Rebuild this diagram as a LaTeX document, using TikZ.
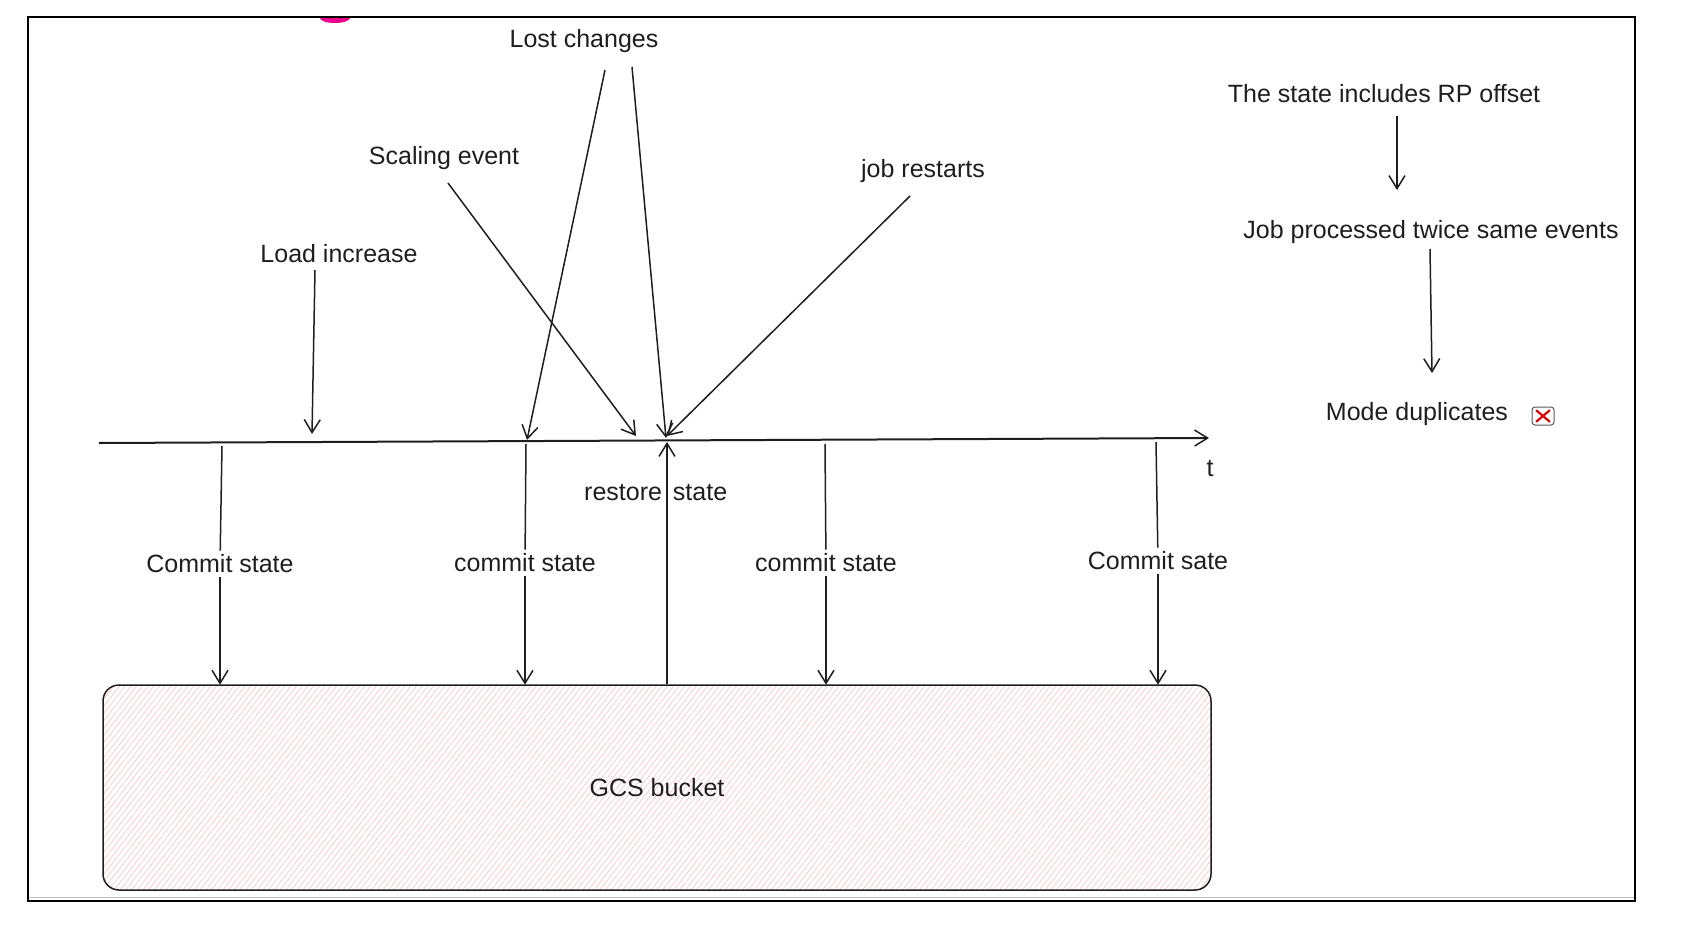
\documentclass[tikz,border=0pt]{standalone}
\usepackage{fontspec}
\setmainfont{Liberation Sans}
\usetikzlibrary{arrows.meta, patterns.meta}
\definecolor{ink}{HTML}{1E1E1E}
\definecolor{hatchred}{HTML}{F5C2C2}
\tikzset{lbl/.style = {font = \fontsize{25}{30}\selectfont, text = ink, inner sep = 4pt}}
\tikzset{link/.style = {draw = ink, line width = 1.5pt}}
\tikzset{arr/.style = {link, -{Straight Barb[length = 13pt, width = 16pt, line width = 1.5pt]}}}
\tikzset{bucket/.style = {draw = ink, line width = 1.5pt, rounded corners = 16pt,
    pattern = {Lines[angle = 52, distance = 4.5pt, line width = 0.6pt]}, pattern color = hatchred,
    minimum width = 1108pt, minimum height = 205pt, font = \fontsize{25}{30}\selectfont, text = ink}}

\begin{document}
\begin{tikzpicture}[x = 1pt, y = -1pt]
	\useasboundingbox (0, 0) rectangle (1682, 934);

	% frame of the screenshot
	\fill[magenta] (320, 18) arc[start angle = 180, end angle = 0, x radius = 15, y radius = 5] -- cycle;
	\draw[gray!50, line width = 1pt] (28, 897) -- (1635, 897);
	\draw[black, line width = 2pt] (28, 17) rectangle (1635, 901);

	% time axis
	\coordinate (tl0) at (99, 443);
	\coordinate (tl1) at (1209, 438);
	\draw[arr, line width = 2pt] (tl0) -- (tl1);
	\node[lbl] (t) at (1210, 469) {t};

	% state bucket
	\node[bucket] (gcs) at (657, 787.5) {GCS bucket};

	% commits
	\coordinate (c1) at (222, 446);
	\coordinate (c2) at (526, 444);
	\coordinate (c3) at (825, 444);
	\coordinate (c4) at (1156, 442);
	\node[lbl] (cs1) at (220, 564) {Commit state};
	\node[lbl] (cs2) at (525, 563) {commit state};
	\node[lbl] (cs3) at (826, 563) {commit state};
	\node[lbl] (cs4) at (1158, 561) {Commit sate};
	\draw[link] (c1) -- (cs1);
	\draw[link] (c2) -- (cs2);
	\draw[link] (c3) -- (cs3);
	\draw[link] (c4) -- (cs4);
	\draw[arr] (cs1) -- (cs1 |- gcs.north);
	\draw[arr] (cs2) -- (cs2 |- gcs.north);
	\draw[arr] (cs3) -- (cs3 |- gcs.north);
	\draw[arr] (cs4) -- (cs4 |- gcs.north);

	% restore
	\coordinate (rs0) at (667, 684);
	\coordinate (rs1) at (667, 442);
	\draw[arr] (rs0) -- (rs1);
	\node[lbl] (rs) at (667, 493) {\llap{restore\hspace{5pt}}\rlap{\hspace{6pt}state}};

	% events
	\node[lbl] (load) at (339, 254) {Load increase};
	\node[lbl] (scal) at (444, 158) {Scaling event};
	\node[lbl] (lost) at (584, 41) {Lost changes};
	\node[lbl] (job) at (923, 171) {job restarts};
	\coordinate (li0) at (315, 270);
	\coordinate (li1) at (312, 434);
	\coordinate (se0) at (448, 183);
	\coordinate (se1) at (636, 436);
	\coordinate (lcA0) at (605, 70);
	\coordinate (lcA1) at (527, 440);
	\coordinate (lcB0) at (632, 67);
	\coordinate (lcB1) at (666, 438);
	\coordinate (jr0) at (910, 196);
	\coordinate (jr1) at (667, 436);
	\draw[arr] (li0) -- (li1);
	\draw[arr] (se0) -- (se1);
	\draw[arr] (lcA0) -- (lcA1);
	\draw[arr] (lcB0) -- (lcB1);
	\draw[arr] (jr0) -- (jr1);

	% consequence
	\node[lbl] (rp) at (1384, 94) {The state includes RP offset};
	\node[lbl] (twice) at (1431, 232) {Job processed twice same events};
	\node[lbl] (dup) at (1417, 414) {Mode duplicates};
	\coordinate (rp0) at (1397, 116);
	\coordinate (rp1) at (1397, 190);
	\coordinate (jp0) at (1430, 249);
	\coordinate (jp1) at (1432, 373);
	\draw[arr] (rp0) -- (rp1);
	\draw[arr] (jp0) -- (jp1);

	% cross mark
	\node[draw = gray!70!black, line width = 1pt, rounded corners = 3pt, minimum width = 22pt,
		minimum height = 18pt, inner sep = 0pt] (cross) at (1543, 416) {};
	\draw[red!85!black, line width = 2.2pt, line cap = round]
		([shift = {(5pt, 4pt)}]cross.south west) -- ([shift = {(-5pt, -4pt)}]cross.north east)
		([shift = {(5pt, -4pt)}]cross.north west) -- ([shift = {(-5pt, 4pt)}]cross.south east);
\end{tikzpicture}
\end{document}
